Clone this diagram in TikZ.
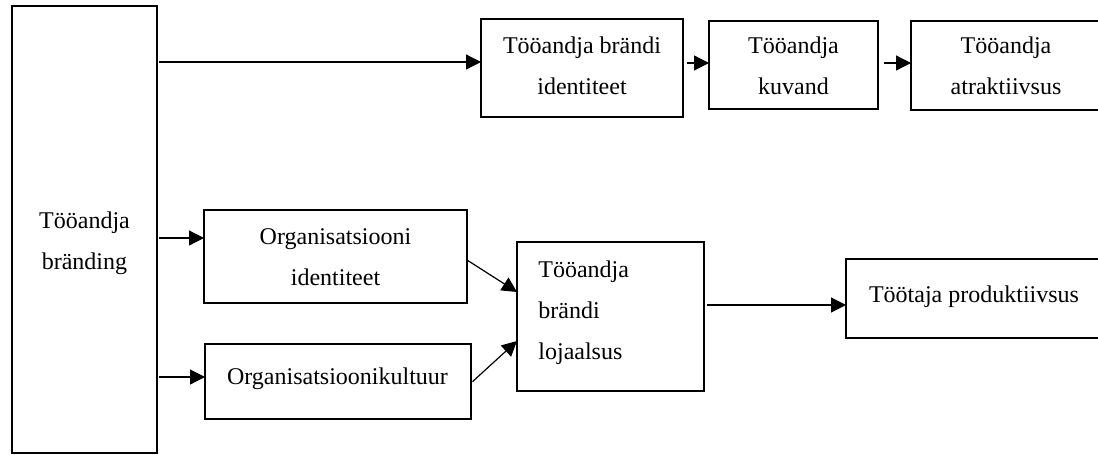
\documentclass[tikz,border=0pt]{standalone}
\usepackage{fontspec}
\setmainfont{Liberation Serif}
\usetikzlibrary{arrows.meta}
\newcommand\mlines[2][c]{\begin{tabular}[t]{@{}#1@{}}#2\end{tabular}}
\begin{document}
\begin{tikzpicture}[x=0.5pt,y=-0.5pt,
  box/.style={draw=black, line width=1.3pt, rectangle, inner sep=0pt, outer sep=0pt},
  arr/.style={-{Triangle[length=7.5pt,width=7.5pt]}, line width=0.6pt},
  txt/.style={inner sep=0pt, anchor=base, font=\fontsize{12}{20.5}\selectfont}]
\useasboundingbox (0,0) rectangle (1098,455);
\clip (0,0) rectangle (1098,455);
% boxes
\node[box, minimum width=72.5pt, minimum height=223.5pt] (lb) at (84.5,229.5) {};
\node[box, minimum width=101pt, minimum height=49pt] (b1) at (582,68) {};
\node[box, minimum width=84.5pt, minimum height=44pt] (b2) at (793.5,65) {};
\node[box, minimum width=95pt, minimum height=44.5pt] (b3) at (1006,65.5) {};
\node[box, minimum width=131.5pt, minimum height=46.5pt] (oi) at (335.5,256.5) {};
\node[box, minimum width=133pt, minimum height=37.5pt] (ok) at (338,381.5) {};
\node[box, minimum width=93.5pt, minimum height=74.5pt] (loy) at (610.5,316.5) {};
\node[box, minimum width=128pt, minimum height=39.5pt] (prod) at (974,298.5) {};
% texts
\node[txt] (tlb) at (84.5,228) {\mlines{Tööandja\\bränding}};
\node[txt] (tb1) at (582,54) {\mlines{Tööandja brändi\\identiteet}};
\node[txt] (tb2) at (793.5,54) {\mlines{Tööandja\\kuvand}};
\node[txt] (tb3) at (1006,54) {\mlines{Tööandja\\atraktiivsus}};
\node[txt] (toi) at (335.5,244) {\mlines{Organisatsiooni\\identiteet}};
\node[txt] (tok) at (337.5,384) {Organisatsioonikultuur};
\node[txt, anchor=base west] (tloy) at (538,277) {\mlines[l]{Tööandja\\brändi\\lojaalsus}};
\node[txt] (tprod) at (974,302) {Töötaja produktiivsus};
% connectors
\draw[arr, shorten <=1pt] (lb.east |- 0,62) -- (b1.west |- 0,62);
\draw[arr, shorten <=2pt] (b1.east |- 0,63) -- (b2.west |- 0,63);
\draw[arr, shorten <=3pt] (b2.east |- 0,63) -- (b3.west |- 0,63);
\draw[arr, shorten <=1pt] (lb.east |- 0,238) -- (oi.west |- 0,238);
\draw[arr, shorten <=1pt] (lb.east |- 0,377) -- (ok.west |- 0,377);
\draw[arr] (oi.east |- 0,260) -- (loy.west |- 0,292);
\draw[arr, shorten <=1pt] (ok.east |- 0,383) -- (loy.west |- 0,341);
\draw[arr, shorten <=1.5pt] (loy.east |- 0,305) -- (prod.west |- 0,305);
\end{tikzpicture}
\end{document}
